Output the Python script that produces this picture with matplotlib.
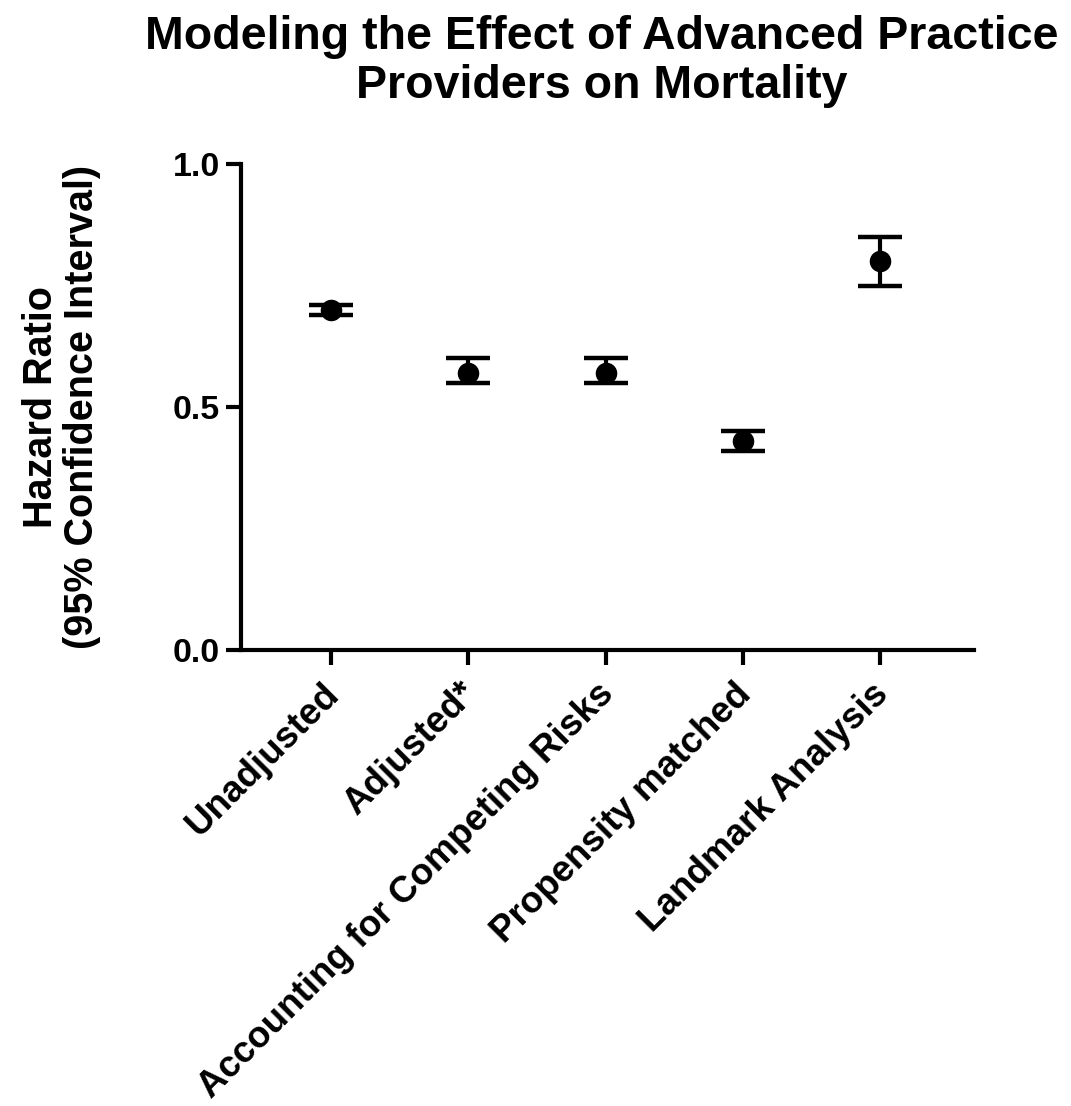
import matplotlib
matplotlib.use('Agg')
import matplotlib.pyplot as plt
from matplotlib.transforms import ScaledTranslation

# Hazard ratios with 95% confidence bounds for each model
MODELS = ['Unadjusted', 'Adjusted*', 'Accounting for Competing Risks',
          'Propensity matched', 'Landmark Analysis']
HR    = [0.70, 0.57, 0.57, 0.43, 0.80]
LOWER = [0.69, 0.55, 0.55, 0.41, 0.75]
UPPER = [0.71, 0.60, 0.60, 0.45, 0.85]

plt.rcParams.update({
    'font.family': ['Liberation Sans', 'DejaVu Sans'],
    'font.weight': 'bold',
    'axes.linewidth': 3.0,
    'xtick.major.width': 3.0,
    'ytick.major.width': 3.0,
    'xtick.major.size': 11,
    'ytick.major.size': 11,
})

fig = plt.figure(figsize=(10.71, 11.06), dpi=100)
ax = fig.add_axes([0.225, 0.4123, 0.684, 0.4394])

x = list(range(len(MODELS)))
err_lo = [h - lo for h, lo in zip(HR, LOWER)]
err_hi = [hi - h for h, hi in zip(HR, UPPER)]

ax.errorbar(x, HR, yerr=[err_lo, err_hi], fmt='o', color='black',
            markersize=14.5, elinewidth=3, capsize=16, capthick=3.2, zorder=3)

ax.set_xlim(-0.656, 4.68)
ax.set_ylim(0, 1.0)
ax.set_yticks([0.0, 0.5, 1.0])
ax.set_yticklabels(['0.0', '0.5', '1.0'], fontsize=24.5, fontweight='bold')
ax.set_xticks(x)
ax.set_xticklabels(MODELS, rotation=45, ha='right', rotation_mode='anchor',
                   fontsize=26.5, fontweight='bold')
ax.tick_params(axis='x', pad=6)
ax.tick_params(axis='y', pad=4)
# nudge the slanted labels so their ends sit under the ticks
shift = ScaledTranslation(-7 / 72, -2 / 72, fig.dpi_scale_trans)
for lbl in ax.get_xticklabels():
    lbl.set_transform(lbl.get_transform() + shift)
ax.spines['top'].set_visible(False)
ax.spines['right'].set_visible(False)

ax.set_ylabel('Hazard Ratio\n(95% Confidence Interval)', fontsize=28.5,
              fontweight='bold', labelpad=52, linespacing=1.1)

fig.text(0.562, 0.944, 'Modeling the Effect of Advanced Practice\nProviders on Mortality',
         ha='center', va='center', fontsize=33.5, fontweight='bold', linespacing=1.15)

fig.savefig('out.png', dpi=100)
